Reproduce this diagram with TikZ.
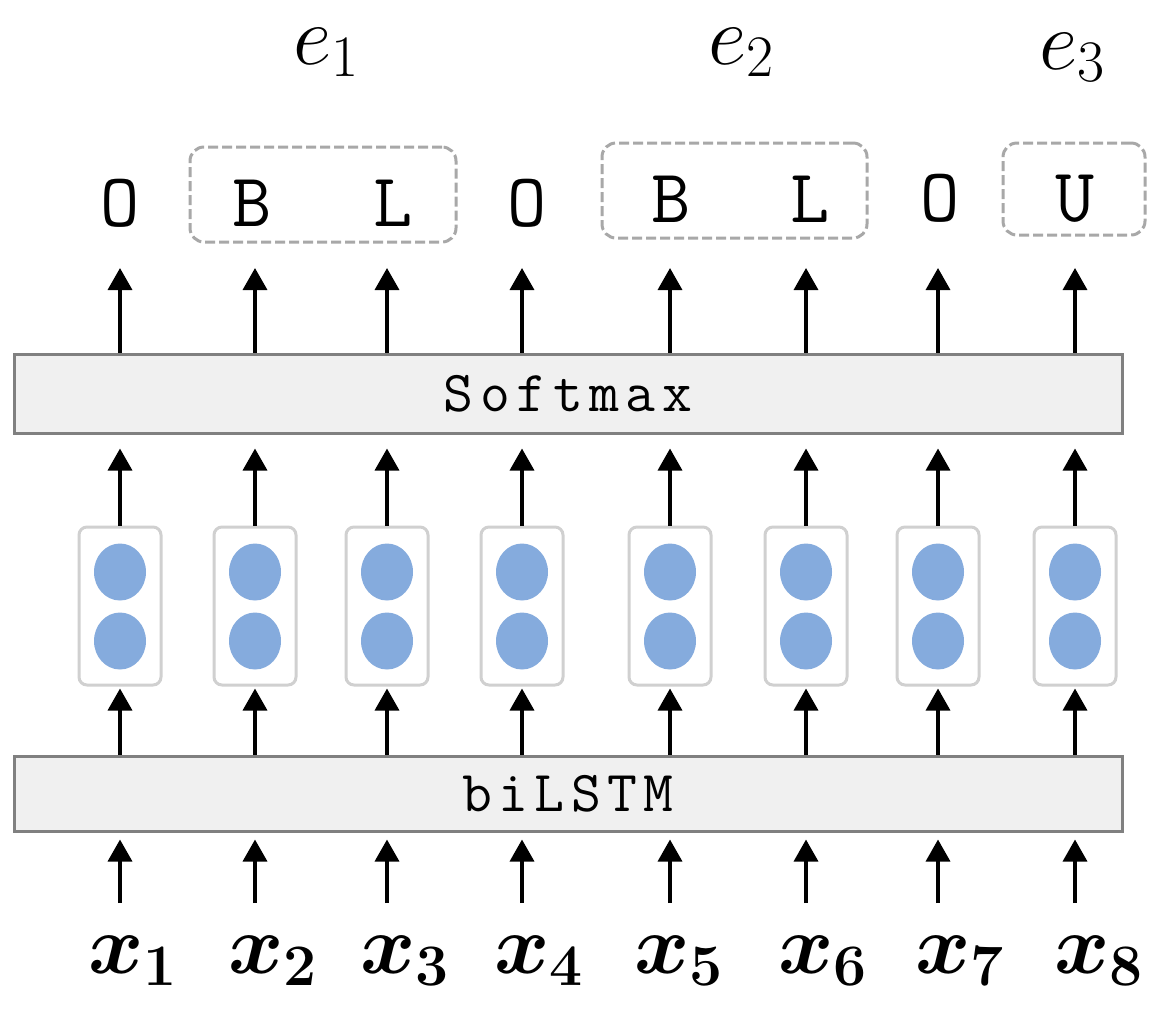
\RequirePackage{fix-cm}
\documentclass[tikz,border=0pt]{standalone}
\usepackage{fontspec}
\usepackage{bm}
\usetikzlibrary{arrows.meta,shapes.geometric}
\definecolor{cellblue}{RGB}{133,171,221}
\definecolor{cellborder}{RGB}{208,208,208}
\definecolor{dashgray}{RGB}{168,168,168}
\definecolor{boxfill}{RGB}{240,240,240}
\definecolor{boxborder}{RGB}{128,128,128}
\makeatletter
\newcommand\spreadword[1]{\spread@word#1\@nil}
\def\spread@word#1{\ifx#1\@nil\else#1\kern3.25pt\expandafter\spread@word\fi}
\makeatother
\newcommand\layerfont{\ttfamily\fontsize{29}{32}\selectfont}
\newcommand\tagfont{\ttfamily\fontsize{38}{40}\selectfont}
\newcommand\mathbig{\fontsize{42}{46}\selectfont}
\begin{document}
\begin{tikzpicture}[x=0.5pt,y=-0.5pt,
  layerbox/.style={draw=boxborder, fill=boxfill, line width=1.5pt, minimum width=554pt, inner sep=0pt, font=\layerfont},
  cellbox/.style={draw=cellborder, line width=1.5pt, rounded corners=4pt, minimum width=41pt, minimum height=79pt, inner sep=0pt},
  unitdot/.style={ellipse, fill=cellblue, minimum width=26pt, minimum height=28.5pt, inner sep=0pt},
  tag/.style={anchor=base, inner sep=0pt, font=\tagfont},
  entbox/.style={draw=dashgray, dash pattern=on 5pt off 2pt, line width=1.5pt, rounded corners=7pt, inner sep=0pt},
  mlabel/.style={anchor=base west, inner sep=0pt, font=\mathbig},
  arr/.style={line width=1.75pt, -{Triangle[width=12pt,length=11pt]}}
]
\useasboundingbox (0,0) rectangle (1161,1008);

% layer boxes
\node[layerbox, minimum height=39.5pt] (softmax) at (568,393.5) {\kern3.25pt\spreadword{Softmax}};
\node[layerbox, minimum height=37.5pt] (bilstm) at (568,793.5) {\kern3.25pt\spreadword{biLSTM}};

% entity groups
\node[entbox, minimum width=133pt, minimum height=47.5pt] (g1) at (323,194.5) {};
\node[entbox, minimum width=132.5pt, minimum height=47.5pt] (g2) at (734.5,190.5) {};
\node[entbox, minimum width=71pt, minimum height=46pt] (g3) at (1074,189) {};

% tags
\node[tag] (t1) at (120,226) {O};
\node[tag] (t2) at (252,226) {B};
\node[tag] (t3) at (393,226) {L};
\node[tag] (t4) at (527,226) {O};
\node[tag] (t5) at (671,222) {B};
\node[tag] (t6) at (810,222) {L};
\node[tag] (t7) at (940,221) {O};
\node[tag] (t8) at (1075,221) {U};

% entity labels
\node[mlabel] (e1) at (293,64) {$e_1$};
\node[mlabel] (e2) at (708,64) {$e_2$};
\node[mlabel] (e3) at (1039,69) {$e_3$};

% inputs
\node[mlabel] (x1) at (88,973) {$\bm{x}_{\bm{1}}$};
\node[mlabel] (x2) at (228,973) {$\bm{x}_{\bm{2}}$};
\node[mlabel] (x3) at (360,973) {$\bm{x}_{\bm{3}}$};
\node[mlabel] (x4) at (494,973) {$\bm{x}_{\bm{4}}$};
\node[mlabel] (x5) at (634,973) {$\bm{x}_{\bm{5}}$};
\node[mlabel] (x6) at (778,973) {$\bm{x}_{\bm{6}}$};
\node[mlabel] (x7) at (915,973) {$\bm{x}_{\bm{7}}$};
\node[mlabel] (x8) at (1054,973) {$\bm{x}_{\bm{8}}$};

% cells and arrows
\foreach \i/\c in {1/120,2/255,3/387,4/522,5/670,6/806,7/938,8/1075} {
  \node[cellbox] (c\i) at (\c,606) {};
  \node[unitdot] (u\i a) at (\c,572) {};
  \node[unitdot] (u\i b) at (\c,641) {};
  \coordinate (in\i) at (\c,903);
  \coordinate (out\i) at (\c,268);
  \draw[arr, shorten >=3.5pt] (in\i) -- (in\i |- bilstm.south);
  \draw[arr, shorten >=1pt] (bilstm.north -| c\i) -- (c\i.south);
  \draw[arr, shorten >=7pt] (c\i.north) -- (c\i.north |- softmax.south);
  \draw[arr] (softmax.north -| c\i) -- (out\i);
}
\end{tikzpicture}
\end{document}
